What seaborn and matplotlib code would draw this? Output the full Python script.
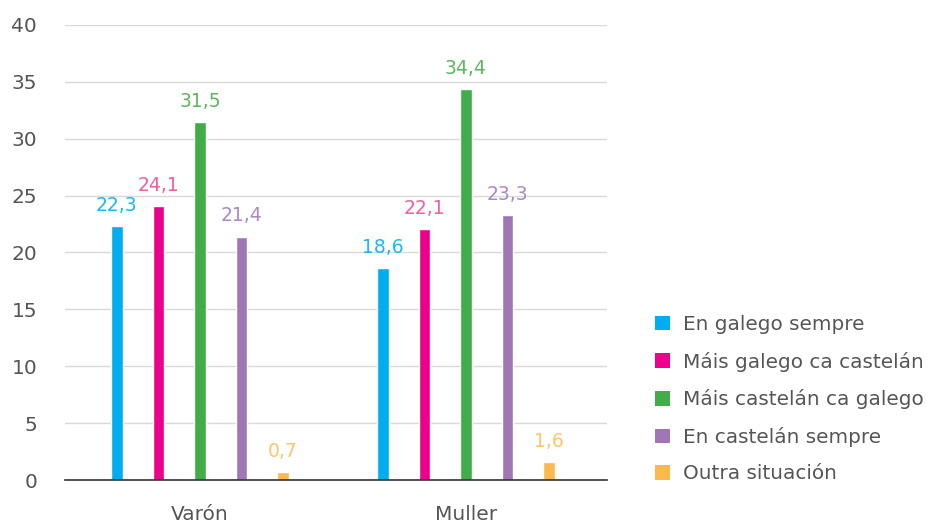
import matplotlib
matplotlib.use("Agg")
import matplotlib.pyplot as plt
import seaborn as sns
import pandas as pd
from matplotlib.patches import Patch

groups = ["Varón", "Muller"]
series = ["En galego sempre", "Máis galego ca castelán", "Máis castelán ca galego",
          "En castelán sempre", "Outra situación"]
values = {
    "Varón": [22.3, 24.1, 31.5, 21.4, 0.7],
    "Muller": [18.6, 22.1, 34.4, 23.3, 1.6],
}
bar_colors = ["#00AEEF", "#EC008C", "#40AD49", "#A077B5", "#FDB94D"]
label_colors = ["#1CB9F0", "#F0609E", "#5DB85E", "#AB89C2", "#FDC56E"]

rows = []
for g in groups:
    for s, v in zip(series, values[g]):
        rows.append({"grupo": g, "serie": s, "valor": v})
df = pd.DataFrame(rows)

sns.set_theme(style="white")
plt.rcParams["font.family"] = ["DejaVu Sans"]

fig = plt.figure(figsize=(9.35, 5.23), dpi=100)
ax = fig.add_axes([65/935, 1-480/523, (607-65)/935, (480-25)/523])

sns.barplot(data=df, x="grupo", y="valor", hue="serie", order=groups, hue_order=series,
            palette=bar_colors, width=0.78, gap=0.72, legend=False, ax=ax,
            saturation=1, errorbar=None)

for cont, lc in zip(ax.containers, label_colors):
    labs = [f"{v:.1f}".replace(".", ",") for v in cont.datavalues]
    ax.bar_label(cont, labels=labs, color=lc, fontsize=13.5, padding=8)

ax.set_ylim(0, 40)
ax.set_xlim(-0.507, 1.53)
ax.set_yticks(range(0, 41, 5))
ax.yaxis.grid(True, color="#d9d9d9", linewidth=1)
ax.set_axisbelow(True)
for sp in ["left", "right", "top"]:
    ax.spines[sp].set_visible(False)
ax.spines["bottom"].set_color("#333333")
ax.spines["bottom"].set_linewidth(1.2)
ax.set_xlabel("")
ax.set_ylabel("")
ax.tick_params(axis="both", length=0, labelsize=14.5, colors="#555555")
ax.tick_params(axis="y", pad=20)
ax.tick_params(axis="x", pad=18, labelsize=14.5)

handles = [Patch(facecolor=c, edgecolor="none") for c in bar_colors]
fig.legend(handles, series, loc="upper left", bbox_to_anchor=(637/935, 1-297/523),
           frameon=False, fontsize=14.4, handlelength=0.75, handleheight=0.75,
           handletextpad=0.65, labelspacing=0.88, labelcolor="#555555")

fig.savefig("out.png", dpi=100)
